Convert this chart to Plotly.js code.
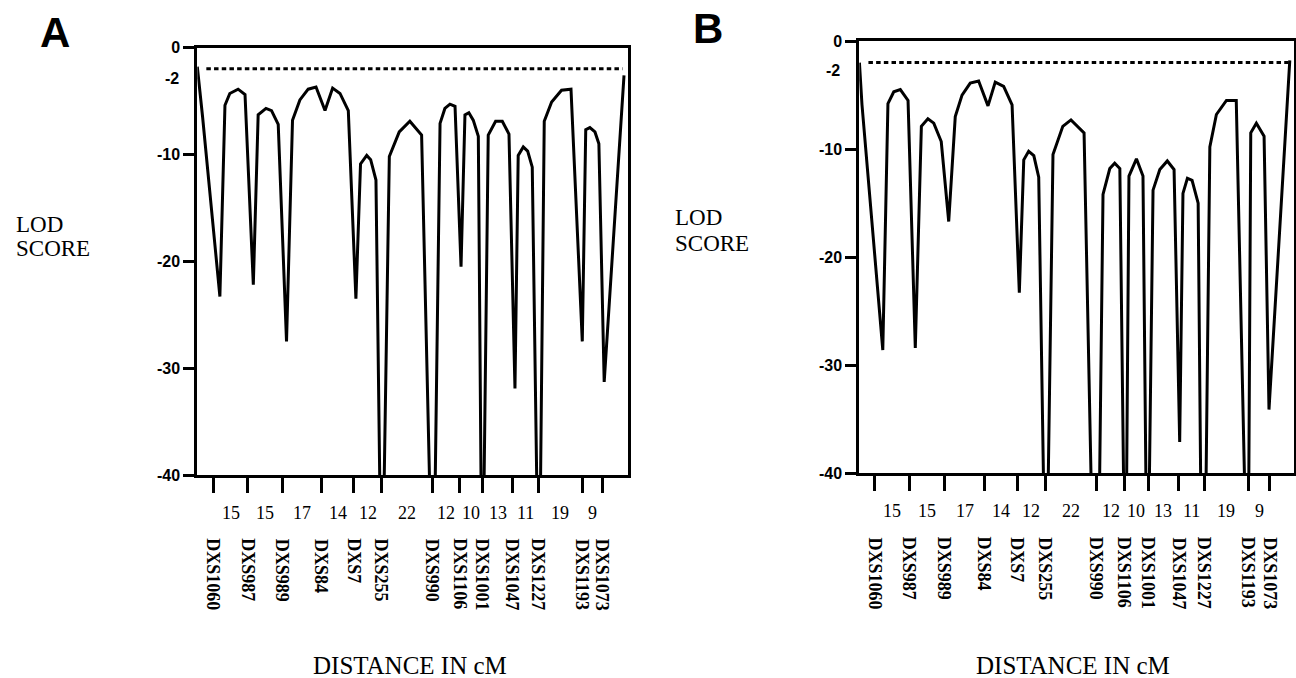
<!DOCTYPE html>
<html>
<head>
<meta charset="utf-8">
<script src="https://cdn.plot.ly/plotly-3.0.1.min.js"></script>
<style>html,body{margin:0;padding:0;background:#fff;}#chart{width:1296px;height:678px;}</style>
</head>
<body>
<div id="chart"></div>
<script>
// ---- Data ----
const markers = ['DXS1060','DXS987','DXS989','DXS84','DXS7','DXS255','DXS990','DXS1106','DXS1001','DXS1047','DXS1227','DXS1193','DXS1073'];
const distances = [15,15,17,14,12,22,12,10,13,11,19,9];   // cM between adjacent markers
const threshold = -2;                                    // exclusion LOD score

// Panel A: position (cM) and LOD score
const posA = [-6.9,-4.6,2.9,5.1,7.2,10.8,13.8,17.4,19.5,22.9,25.3,28.2,31.8,34.4,37.6,41.2,44.6,48.5,51.8,55.0,58.6,61.9,63.9,66.6,68.3,70.6,73.1,76.4,80.7,84.6,85.3,90.4,95.4,98.4,100.5,102.7,104.9,107.5,109.2,110.9,112.8,115.0,116.7,119.3,122.5,125.4,128.3,130.9,132.3,134.5,136.4,138.4,141.3,143.6,146.8,151.1,155.2,160.1,161.6,163.4,165.6,167.3,169.6,178.2];
const lodA = [-1.8,-6.5,-23.3,-5.4,-4.3,-3.9,-4.4,-22.2,-6.3,-5.7,-5.9,-7.2,-27.5,-6.8,-4.9,-3.9,-3.7,-5.9,-3.8,-4.3,-5.9,-23.5,-10.9,-10.1,-10.5,-12.4,-55,-10.2,-7.9,-7.1,-6.9,-8.2,-55,-7.1,-5.7,-5.3,-5.5,-20.5,-6.3,-6.1,-6.8,-8.3,-55,-8.2,-6.9,-6.9,-8.1,-31.9,-10.1,-9.3,-9.7,-11.2,-55,-6.9,-5.1,-4.0,-3.9,-27.5,-7.7,-7.5,-7.9,-9.0,-31.3,-2.6];

// Panel B: position (cM) and LOD score
const posB = [-6.5,-5.4,3.5,5.7,8.2,11.0,14.3,17.4,20.0,22.8,25.3,28.5,31.7,34.5,37.4,40.9,44.5,48.5,51.6,55.2,58.8,61.9,63.8,65.9,68.1,70.2,73.3,76.3,80.5,84.0,89.6,94.9,97.7,100.6,102.7,104.9,107.3,108.8,112.0,114.8,116.7,119.1,122.0,125.2,128.1,130.5,131.9,133.8,135.8,138.4,140.5,143.4,146.2,150.5,154.7,159.7,160.9,163.3,166.6,168.7,177.6];
const lodB = [-2.0,-5.9,-28.6,-5.8,-4.7,-4.5,-5.5,-28.4,-7.9,-7.2,-7.6,-9.3,-16.7,-7.0,-5.0,-3.9,-3.7,-6.0,-3.8,-4.2,-5.9,-23.3,-11.0,-10.2,-10.6,-12.6,-55,-10.5,-7.9,-7.3,-8.5,-65,-14.2,-11.8,-11.3,-11.8,-55,-12.5,-10.9,-12.5,-55,-13.8,-11.9,-11.1,-11.9,-37.1,-14.1,-12.7,-12.9,-15.0,-65,-9.8,-6.8,-5.5,-5.5,-55,-8.5,-7.6,-8.8,-34.1,-1.8];

const yTicks = [0,-10,-20,-30,-40];

// cumulative marker positions from inter-marker distances
const markerPos = [0];
distances.forEach(d => markerPos.push(markerPos[markerPos.length-1] + d));

// ---- Styles ----
const W = 1296, H = 678;
const px2x = p => p / W;
const px2y = p => (H - p) / H;
const tickFont = {family: 'Liberation Sans, Arial, sans-serif', size: 16, color: '#000', weight: 700};
const serif = 'Liberation Serif, Times New Roman, serif';

const traces = [
  {x: posA, y: lodA, xaxis: 'x', yaxis: 'y', mode: 'lines', line: {color: '#000', width: 3}, hoverinfo: 'skip'},
  {x: posB, y: lodB, xaxis: 'x2', yaxis: 'y2', mode: 'lines', line: {color: '#000', width: 3}, hoverinfo: 'skip'}
];

function xAxis(domain, range, anchor) {
  return {domain: domain, range: range, anchor: anchor, showgrid: false, zeroline: false,
    showline: true, linewidth: 3, linecolor: '#000', mirror: true,
    ticks: 'outside', ticklen: 15, tickwidth: 3, tickcolor: '#000',
    tickmode: 'array', tickvals: markerPos, showticklabels: false, fixedrange: true};
}
function yAxis(domain, anchor) {
  return {domain: domain, range: [-40, 0], anchor: anchor, showgrid: false, zeroline: false,
    showline: true, linewidth: 3, linecolor: '#000', mirror: true,
    ticks: 'outside', ticklen: 11, tickwidth: 3, tickcolor: '#000',
    tickmode: 'array', tickvals: yTicks, ticktext: yTicks.map(String), tickfont: tickFont, fixedrange: true};
}

const panels = [
  {xa: 'x', ya: 'y', letter: 'A', letterX: 55, letterY: 33, lodX: 14, lodY: 224, scoreY: 248,
   minus2X: 181, minus2Shift: -10, distY: 513, nameY: 536.5, xlabX: 410},
  {xa: 'x2', ya: 'y2', letter: 'B', letterX: 707.5, letterY: 28, lodX: 673, lodY: 217.5, scoreY: 244,
   minus2X: 842, minus2Shift: -7.5, distY: 511, nameY: 535, xlabX: 1072.5}
];

const annotations = [];
const shapes = [];
panels.forEach(p => {
  annotations.push({xref: 'paper', yref: 'paper', x: px2x(p.letterX), y: px2y(p.letterY), xanchor: 'center', yanchor: 'middle',
    text: p.letter, showarrow: false, font: {family: 'Liberation Sans, Arial, sans-serif', size: 42, color: '#000', weight: 700}});
  annotations.push({xref: 'paper', yref: 'paper', x: px2x(p.lodX), y: px2y(p.lodY), xanchor: 'left', yanchor: 'middle',
    text: 'LOD', showarrow: false, font: {family: serif, size: 23, color: '#000'}});
  annotations.push({xref: 'paper', yref: 'paper', x: px2x(p.lodX), y: px2y(p.scoreY), xanchor: 'left', yanchor: 'middle',
    text: 'SCORE', showarrow: false, font: {family: serif, size: 23, color: '#000'}});
  annotations.push({xref: 'paper', yref: p.ya, x: px2x(p.minus2X), y: threshold, xanchor: 'right', yanchor: 'middle', yshift: p.minus2Shift,
    text: String(threshold), showarrow: false, font: tickFont});
  annotations.push({xref: 'paper', yref: 'paper', x: px2x(p.xlabX), y: px2y(665), xanchor: 'center', yanchor: 'middle',
    text: 'DISTANCE IN cM', showarrow: false, font: {family: serif, size: 25, color: '#000'}});
  distances.forEach((d, i) => {
    annotations.push({xref: p.xa, yref: 'paper', x: (markerPos[i] + markerPos[i+1]) / 2, y: px2y(p.distY),
      xanchor: 'center', yanchor: 'middle', text: String(d), showarrow: false, font: {family: serif, size: 18, color: '#000'}});
  });
  markers.forEach((m, i) => {
    annotations.push({xref: p.xa, yref: 'paper', x: markerPos[i], y: px2y(p.nameY), xanchor: 'center', yanchor: 'top',
      textangle: 90, text: m, showarrow: false, font: {family: serif, size: 18, color: '#000', weight: 700}});
  });
  shapes.push({type: 'line', xref: p.xa + ' domain', yref: p.ya, x0: 0.021, x1: 0.988, y0: threshold, y1: threshold,
    line: {color: '#000', width: 3, dash: '4.5px,3.2px'}});
});

const layout = {
  width: W, height: H, margin: {l: 0, r: 0, t: 0, b: 0},
  paper_bgcolor: '#fff', plot_bgcolor: '#fff', showlegend: false,
  xaxis: xAxis([197.3 / W, 627.7 / W], [-6.9, 179.8], 'y'),
  yaxis: yAxis([(H - 475) / H, (H - 47.5) / H], 'x'),
  xaxis2: xAxis([859.3 / W, 1294 / W], [-6.55, 179.4], 'y2'),
  yaxis2: yAxis([(H - 473.3) / H, (H - 41) / H], 'x2'),
  annotations: annotations, shapes: shapes
};

Plotly.newPlot('chart', traces, layout, {displayModeBar: false, staticPlot: true});
</script>
</body>
</html>
